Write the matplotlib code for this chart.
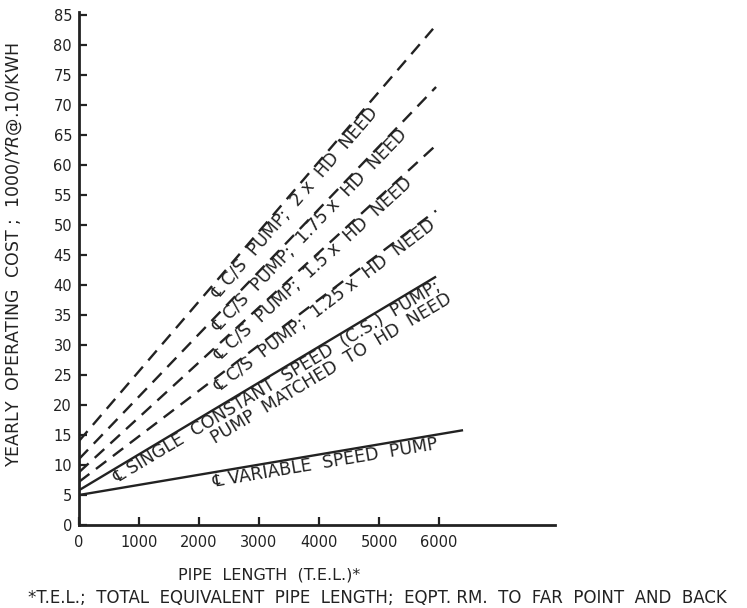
import numpy as np
import matplotlib
matplotlib.use('Agg')
import matplotlib.pyplot as plt

# pipe length (ft) at start and end of each line, cost in $1000/yr
series_names = ['2x', '1.75x', '1.5x', '1.25x', 'single', 'variable']
x_start = [0, 0, 0, 0, 0, 0]
x_end = [5900, 5950, 5950, 5950, 5950, 6400]
y_start = [14.0, 11.0, 8.8, 7.2, 5.8, 5.0]
y_end = [82.7, 73.0, 63.3, 52.4, 41.4, 15.8]
dashed = [True, True, True, True, False, False]

labels = [
    '\u2104 C/S  PUMP;  2 x  HD  NEED',
    '\u2104 C/S  PUMP;  1.75 x  HD  NEED',
    '\u2104 C/S  PUMP;  1.5 x  HD  NEED',
    '\u2104 C/S  PUMP;  1.25 x  HD  NEED',
    '\u2104 SINGLE  CONSTANT  SPEED  (C.S.)  PUMP;',
    '\u2104 VARIABLE  SPEED  PUMP',
]
label_x = [2150, 2170, 2200, 2200, 520, 2200]

x_ticks = [0, 1000, 2000, 3000, 4000, 5000, 6000]
y_ticks = list(range(0, 90, 5))

ink = '#222222'
fig = plt.figure(figsize=(7.47, 6.08), dpi=100)
ax = fig.add_axes([0.1058, 0.1365, 0.637, 0.8438])

for i in range(len(series_names)):
    ls = (0, (5.5, 3.5)) if dashed[i] else '-'
    ax.plot([x_start[i], x_end[i]], [y_start[i], y_end[i]], color=ink,
            lw=1.7, linestyle=ls, solid_capstyle='butt')

    slope = (y_end[i] - y_start[i]) / (x_end[i] - x_start[i])
    lx = label_x[i]
    ly = y_start[i] + slope * (lx - x_start[i])
    ang = np.degrees(np.arctan2(slope, 1))
    ax.text(lx, ly, labels[i], rotation=ang, transform_rotates_text=True,
            rotation_mode='anchor', ha='left', va='top', fontsize=12.5,
            color=ink)

# second line of the single-speed label
slope = (y_end[4] - y_start[4]) / (x_end[4] - x_start[4])
ax.text(2300, 13.0, 'PUMP  MATCHED  TO  HD  NEED',
        rotation=np.degrees(np.arctan2(slope, 1)), transform_rotates_text=True,
        rotation_mode='anchor', ha='left', va='bottom', fontsize=12.5, color=ink)

ax.set_xlim(0, 7930)
ax.set_ylim(0, 85.5)
ax.set_xticks(x_ticks)
ax.set_yticks(y_ticks)
ax.tick_params(direction='in', length=6, width=1.6, labelsize=10.5,
               colors=ink)
ax.tick_params(axis='x', pad=7)
ax.tick_params(axis='y', pad=5)

for s in ['top', 'right']:
    ax.spines[s].set_visible(False)
for s in ['left', 'bottom']:
    ax.spines[s].set_linewidth(2)
    ax.spines[s].set_color(ink)

ax.set_ylabel('YEARLY  OPERATING  COST ;  $1000/YR @ $.10/KWH', fontsize=12.5,
              color=ink)
ax.yaxis.set_label_coords(-0.115, 0.526)
ax.set_xlabel('PIPE  LENGTH  (T.E.L.)*', fontsize=11.5, color=ink)
ax.xaxis.set_label_coords(0.40, -0.082)

fig.text(0.505, 0.0164, '*T.E.L.;  TOTAL  EQUIVALENT  PIPE  LENGTH;  EQPT. RM.  TO  FAR  POINT  AND  BACK',
         ha='center', va='center', fontsize=12, color=ink)

fig.savefig('out.png', dpi=100)
